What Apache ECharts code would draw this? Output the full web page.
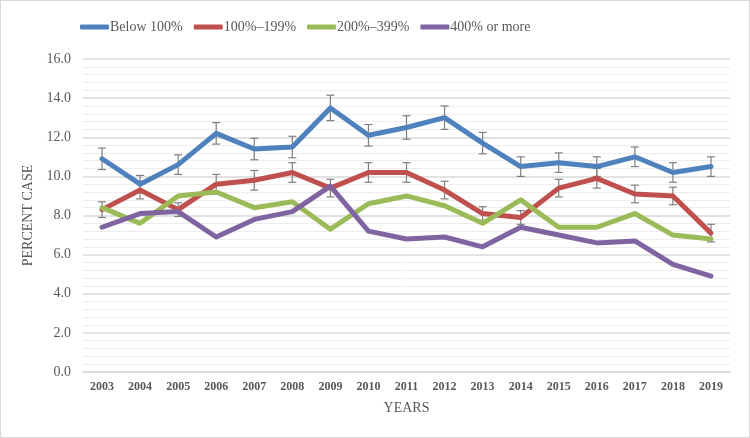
<!DOCTYPE html>
<html>
<head>
<meta charset="utf-8">
<script src="https://cdn.jsdelivr.net/npm/echarts@6/dist/echarts.min.js"></script>
<style>
html,body{margin:0;padding:0;background:#fff;}
#c{width:750px;height:438px;box-sizing:border-box;border:1px solid #d9d9d9;}
</style>
</head>
<body>
<div id="c"></div>
<script>
const years = ['2003','2004','2005','2006','2007','2008','2009','2010','2011','2012','2013','2014','2015','2016','2017','2018','2019'];
const seriesNames = ['Below 100%','100%–199%','200%–399%','400% or more'];
const below100 = [10.9,9.6,10.6,12.2,11.4,11.5,13.5,12.1,12.5,13.0,11.7,10.5,10.7,10.5,11.0,10.2,10.5];
const p100_199 = [8.3,9.3,8.3,9.6,9.8,10.2,9.4,10.2,10.2,9.3,8.1,7.9,9.4,9.9,9.1,9.0,7.1];
const p200_399 = [8.4,7.6,9.0,9.2,8.4,8.7,7.3,8.6,9.0,8.5,7.6,8.8,7.4,7.4,8.1,7.0,6.8];
const p400plus = [7.4,8.1,8.2,6.9,7.8,8.2,9.5,7.2,6.8,6.9,6.4,7.4,7.0,6.6,6.7,5.5,4.9];
const errBelow100 = [0.55,0.45,0.5,0.55,0.55,0.55,0.65,0.55,0.6,0.6,0.55,0.5,0.5,0.5,0.5,0.5,0.5];
const err100_199 = [0.4,0.45,0.35,0.5,0.5,0.5,0.45,0.5,0.5,0.45,0.35,0.35,0.45,0.5,0.45,0.45,0.45];
const colors = ['#4F81BD','#C0504D','#9BBB59','#8064A2'];

function errSeries(vals, errs) {
  return {
    type: 'custom',
    silent: true,
    z: 1,
    data: vals.map((v, i) => [i, v - errs[i], v + errs[i]]),
    renderItem: function (params, api) {
      const x = api.value(0);
      const lo = api.coord([x, api.value(1)]);
      const hi = api.coord([x, api.value(2)]);
      const hw = 4;
      const st = {stroke: '#7f7f7f', lineWidth: 1.2};
      return {
        type: 'group',
        children: [
          {type: 'line', shape: {x1: lo[0], y1: lo[1], x2: hi[0], y2: hi[1]}, style: st},
          {type: 'line', shape: {x1: lo[0]-hw, y1: lo[1], x2: lo[0]+hw, y2: lo[1]}, style: st},
          {type: 'line', shape: {x1: hi[0]-hw, y1: hi[1], x2: hi[0]+hw, y2: hi[1]}, style: st}
        ]
      };
    }
  };
}

function lineSeries(name, data, color) {
  return {
    name: name, type: 'line', data: data, symbol: 'none', z: 3,
    lineStyle: {color: color, width: 5, cap: 'round', join: 'round'},
    itemStyle: {color: color}
  };
}

const chart = echarts.init(document.getElementById('c'), null, {renderer: 'canvas'});
chart.setOption({
  animation: false,
  color: colors,
  legend: {
    top: 19, left: 79, padding: 0,
    itemWidth: 29, itemHeight: 5, itemGap: 11,
    icon: 'roundRect',
    textStyle: {fontFamily: 'Liberation Serif', fontSize: 14, color: '#595959', padding: [0,0,0,-4]},
    data: seriesNames
  },
  grid: {left: 82, right: 19, top: 58, bottom: 65},
  xAxis: {
    type: 'category', data: years, boundaryGap: true,
    axisLine: {lineStyle: {color: '#d9d9d9', width: 1.5}},
    axisTick: {show: false},
    axisLabel: {fontFamily: 'Liberation Serif', fontWeight: 'bold', fontSize: 12, color: '#595959', margin: 9},
    name: 'YEARS', nameLocation: 'middle', nameGap: 29,
    nameTextStyle: {fontFamily: 'Liberation Serif', fontSize: 14, color: '#595959'}
  },
  yAxis: {
    type: 'value', min: 0, max: 16, interval: 2,
    axisLine: {show: false}, axisTick: {show: false},
    axisLabel: {formatter: v => v.toFixed(1), fontFamily: 'Liberation Serif', fontSize: 14, color: '#595959', margin: 12},
    splitLine: {lineStyle: {color: '#d9d9d9', width: 1.5}},
    minorTick: {show: false, splitNumber: 5},
    minorSplitLine: {show: true, lineStyle: {color: '#ededed', width: 1}},
    name: 'PERCENT CASE', nameLocation: 'middle', nameGap: 44, nameRotate: 90,
    nameTextStyle: {fontFamily: 'Liberation Serif', fontSize: 14, color: '#595959'}
  },
  series: [
    errSeries(below100, errBelow100),
    errSeries(p100_199, err100_199),
    lineSeries(seriesNames[0], below100, colors[0]),
    lineSeries(seriesNames[1], p100_199, colors[1]),
    lineSeries(seriesNames[2], p200_399, colors[2]),
    lineSeries(seriesNames[3], p400plus, colors[3])
  ]
});
</script>
</body>
</html>
